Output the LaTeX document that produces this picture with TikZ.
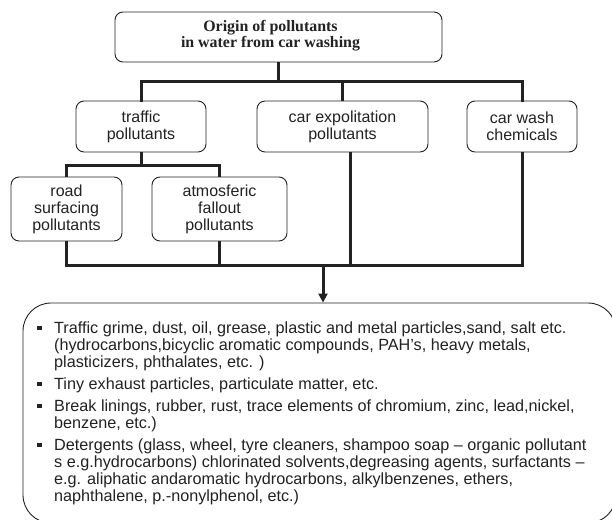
\documentclass[tikz,border=0pt]{standalone}
\usepackage{fontspec}
\setmainfont{Liberation Serif}
\newfontfamily\arial{Liberation Sans}
\usetikzlibrary{arrows.meta}
\definecolor{ink}{HTML}{222222}
\tikzset{
  box/.style={draw=ink, line width=0.9pt, rounded corners=8pt, inner sep=0pt, align=center,
    text=ink, font=\arial\fontsize{16}{17}\selectfont},
  titlebox/.style={draw=ink, line width=0.9pt, rounded corners=8pt, inner sep=0pt},
  titletext/.style={inner sep=0pt, align=center, text=ink, font=\bfseries\fontsize{15.9}{16}\selectfont},
  conn/.style={draw=ink, line width=3pt},
  bigbox/.style={draw=ink, line width=0.9pt, rounded corners=28pt, inner sep=0pt},
  listline/.style={anchor=base west, inner sep=0pt, text=ink, font=\arial\fontsize{16.2}{17}\selectfont},
  bulletmark/.style={fill=ink, rectangle, minimum size=4.5pt, inner sep=0pt},
}
\begin{document}
\begin{tikzpicture}[x=1pt, y=-1pt]
\useasboundingbox (0,0) rectangle (612,519);
\clip (0,0) rectangle (612,519);
\fill[white] (0,0) rectangle (612,519);

% boxes
\node[titlebox, minimum width=327pt, minimum height=50pt] (top) at (278.5,37) {};
\node[titletext] (toptext) at (270.5,35.5) {Origin of pollutants\\in water from car washing};
\node[box, minimum width=130pt, minimum height=51pt] (traffic) at (141,126.5) {traffic\\pollutants};
\node[box, minimum width=171pt, minimum height=51pt] (expl) at (342.5,126.5) {car expolitation\\pollutants};
\node[box, minimum width=110pt, minimum height=51pt] (wash) at (522,126.5) {car wash\\chemicals};
\node[box, minimum width=111pt, minimum height=64pt] (road) at (66.5,209) {road\\surfacing\\pollutants};
\node[box, minimum width=135pt, minimum height=64pt] (atmo) at (219.5,209) {atmosferic\\fallout\\pollutants};
\node[bigbox, minimum width=593pt, minimum height=220pt] (list) at (319.5,413) {};

% junction coordinates
\coordinate (bus1) at (0,81);
\coordinate (bus2) at (0,165);
\coordinate (bus3) at (0,265);
\coordinate (expldown) at (350,152);
\coordinate (arrowtop) at (323,265);

% connectors
\draw[conn] (top.south) -- (top.south |- bus1);
\draw[conn, line cap=rect] (traffic.north) -- (traffic.north |- bus1) -- (wash.north |- bus1) -- (wash.north);
\draw[conn] (expl.north |- bus1) -- (expl.north);
\draw[conn] (traffic.south) -- (traffic.south |- bus2);
\draw[conn] (road.north) -- (road.north |- bus2) -- (atmo.north |- bus2) -- (atmo.north);
\draw[conn] (road.south) -- (road.south |- bus3) -- (wash.south |- bus3) -- (wash.south);
\draw[conn] (atmo.south) -- (atmo.south |- bus3);
\draw[conn] (expldown) -- (expldown |- bus3);
\draw[conn, -{Triangle[width=9pt,length=9pt]}] (arrowtop) -- (arrowtop |- list.north);

% list
\node[bulletmark] (b1) at (39.5,328) {};
\node[listline] (l1) at (54,333) {Traffic grime, dust, oil, grease, plastic and metal particles,sand, salt etc.};
\node[listline] (l2) at (54,350) {(hydrocarbons,bicyclic aromatic compounds, PAH’s, heavy metals,};
\node[listline] (l3) at (54,367) {plasticizers, phthalates, etc. )};
\node[bulletmark] (b2) at (39.5,384) {};
\node[listline] (l4) at (54,389) {Tiny exhaust particles, particulate matter, etc.};
\node[bulletmark] (b3) at (39.5,406) {};
\node[listline] (l5) at (54,411) {Break linings, rubber, rust, trace elements of chromium, zinc, lead,nickel,};
\node[listline] (l6) at (54,428) {benzene, etc.)};
\node[bulletmark] (b4) at (39.5,445) {};
\node[listline] (l7) at (54,450) {Detergents (glass, wheel, tyre cleaners, shampoo soap – organic pollutant};
\node[listline] (l8) at (54,467) {s e.g.hydrocarbons) chlorinated solvents,degreasing agents, surfactants –};
\node[listline] (l9) at (54,484) {e.g. aliphatic andaromatic hydrocarbons, alkylbenzenes, ethers,};
\node[listline] (l10) at (54,501) {naphthalene, p.-nonylphenol, etc.)};
\end{tikzpicture}
\end{document}
